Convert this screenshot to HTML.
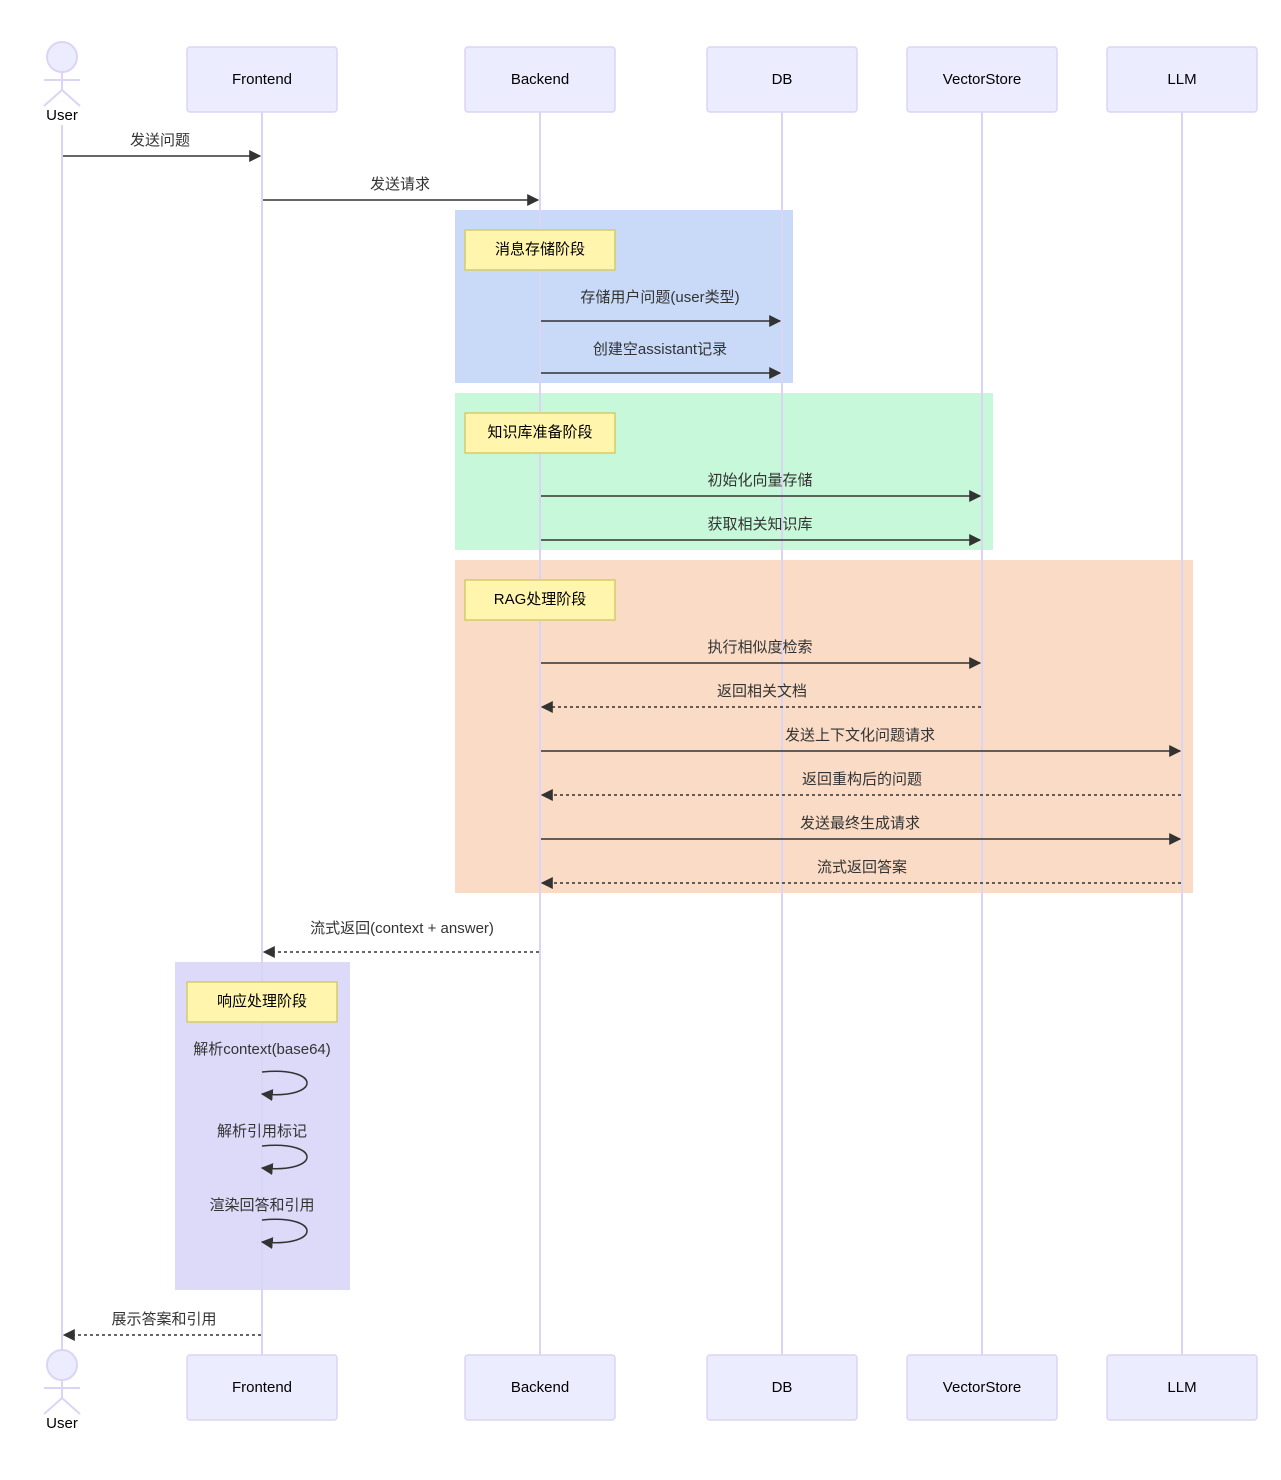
<!DOCTYPE html>
<html><head><meta charset="utf-8"><style>
html,body{margin:0;padding:0;background:#fff;}
text{font-family:"Liberation Sans","Noto Sans CJK SC",sans-serif;font-size:15px;fill:#333;text-anchor:middle;dominant-baseline:middle;}
.lbl{fill:#000;}
</style></head><body>
<svg width="1281" height="1475" viewBox="0 0 1281 1475" xmlns="http://www.w3.org/2000/svg">
<defs>
<marker id="a" viewBox="0 0 10 10" refX="9" refY="5" markerWidth="8" markerHeight="8" orient="auto"><path d="M0,0 L10,5 L0,10 z" fill="#333"/></marker>
</defs>
<!-- groups -->
<rect x="455" y="210" width="338" height="173" fill="#c8daf8"/>
<rect x="455" y="393" width="538" height="157" fill="#c6f8d9"/>
<rect x="455" y="560" width="738" height="333" fill="#f9dbc6"/>
<rect x="175" y="962" width="175" height="328" fill="#dcdaf8"/>
<!-- lifelines -->
<g stroke="#dcd4f4" stroke-width="2">
<line x1="62" y1="125" x2="62" y2="1350"/>
<line x1="262" y1="112" x2="262" y2="1355"/>
<line x1="540" y1="112" x2="540" y2="1355"/>
<line x1="782" y1="112" x2="782" y2="1355"/>
<line x1="982" y1="112" x2="982" y2="1355"/>
<line x1="1182" y1="112" x2="1182" y2="1355"/>
</g>
<!-- boxes -->
<g fill="#ececff" stroke="#dcd4f4" stroke-width="1.5">
<rect x="187" y="47" width="150" height="65" rx="3"/><rect x="465" y="47" width="150" height="65" rx="3"/><rect x="707" y="47" width="150" height="65" rx="3"/><rect x="907" y="47" width="150" height="65" rx="3"/><rect x="1107" y="47" width="150" height="65" rx="3"/>
<rect x="187" y="1355" width="150" height="65" rx="3"/><rect x="465" y="1355" width="150" height="65" rx="3"/><rect x="707" y="1355" width="150" height="65" rx="3"/><rect x="907" y="1355" width="150" height="65" rx="3"/><rect x="1107" y="1355" width="150" height="65" rx="3"/>
</g>
<g class="lbl">
<text x="262" y="80" class="lbl">Frontend</text><text x="540" y="80" class="lbl">Backend</text><text x="782" y="80" class="lbl">DB</text><text x="982" y="80" class="lbl">VectorStore</text><text x="1182" y="80" class="lbl">LLM</text>
<text x="262" y="1388" class="lbl">Frontend</text><text x="540" y="1388" class="lbl">Backend</text><text x="782" y="1388" class="lbl">DB</text><text x="982" y="1388" class="lbl">VectorStore</text><text x="1182" y="1388" class="lbl">LLM</text>
</g>
<!-- actors -->
<g fill="#ececff" stroke="#dcd4f4" stroke-width="2">
<circle cx="62" cy="57" r="15"/><line x1="62" y1="72" x2="62" y2="90"/><line x1="44" y1="80" x2="80" y2="80"/><path d="M44,106 L62,90 L80,106" fill="none"/>
<circle cx="62" cy="1365" r="15"/><line x1="62" y1="1380" x2="62" y2="1398"/><line x1="44" y1="1388" x2="80" y2="1388"/><path d="M44,1414 L62,1398 L80,1414" fill="none"/>
</g>
<text x="62" y="116" class="lbl">User</text><text x="62" y="1424" class="lbl">User</text>
<!-- notes -->
<g fill="#fff5ad" stroke="#d4cc6a" stroke-width="1.5">
<rect x="465" y="230" width="150" height="40"/><rect x="465" y="413" width="150" height="40"/><rect x="465" y="580" width="150" height="40"/><rect x="187" y="982" width="150" height="40"/>
</g>
<text x="540" y="250" class="lbl">消息存储阶段</text><text x="540" y="433" class="lbl">知识库准备阶段</text><text x="540" y="600" class="lbl">RAG处理阶段</text><text x="262" y="1002" class="lbl">响应处理阶段</text>
<!-- messages -->
<g stroke="#333" stroke-width="1.5" fill="none" marker-end="url(#a)">
<line x1="63" y1="156" x2="260" y2="156"/>
<line x1="263" y1="200" x2="538" y2="200"/>
<line x1="541" y1="321" x2="780" y2="321"/>
<line x1="541" y1="373" x2="780" y2="373"/>
<line x1="541" y1="496" x2="980" y2="496"/>
<line x1="541" y1="540" x2="980" y2="540"/>
<line x1="541" y1="663" x2="980" y2="663"/>
<line x1="981" y1="707" x2="542" y2="707" stroke-dasharray="3,3"/>
<line x1="541" y1="751" x2="1180" y2="751"/>
<line x1="1181" y1="795" x2="542" y2="795" stroke-dasharray="3,3"/>
<line x1="541" y1="839" x2="1180" y2="839"/>
<line x1="1181" y1="883" x2="542" y2="883" stroke-dasharray="3,3"/>
<line x1="539" y1="952" x2="264" y2="952" stroke-dasharray="3,3"/>
<line x1="261" y1="1335" x2="64" y2="1335" stroke-dasharray="3,3"/>
<path d="M262,1072 C322,1066 322,1100 262,1094"/>
<path d="M262,1146 C322,1140 322,1174 262,1168"/>
<path d="M262,1220 C322,1214 322,1248 262,1242"/>
</g>
<text x="160" y="141">发送问题</text>
<text x="400" y="185">发送请求</text>
<text x="660" y="298">存储用户问题(user类型)</text>
<text x="660" y="350">创建空assistant记录</text>
<text x="760" y="481">初始化向量存储</text>
<text x="760" y="525">获取相关知识库</text>
<text x="760" y="648">执行相似度检索</text>
<text x="762" y="692">返回相关文档</text>
<text x="860" y="736">发送上下文化问题请求</text>
<text x="862" y="780">返回重构后的问题</text>
<text x="860" y="824">发送最终生成请求</text>
<text x="862" y="868">流式返回答案</text>
<text x="402" y="929">流式返回(context + answer)</text>
<text x="262" y="1050">解析context(base64)</text>
<text x="262" y="1132">解析引用标记</text>
<text x="262" y="1206">渲染回答和引用</text>
<text x="164" y="1320">展示答案和引用</text>
</svg>
</body></html>
